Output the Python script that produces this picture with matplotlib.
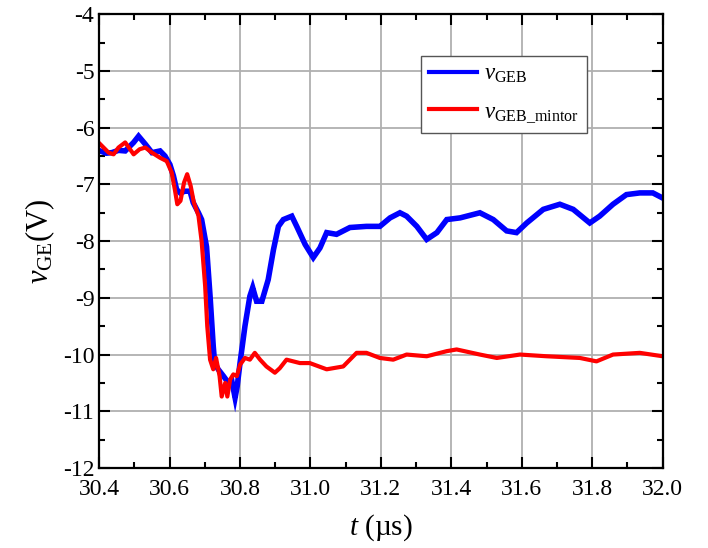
import numpy as np
import matplotlib
matplotlib.use("Agg")
import matplotlib.pyplot as plt
from matplotlib.ticker import MultipleLocator

plt.rcParams['font.family'] = ['Liberation Serif', 'DejaVu Serif']
plt.rcParams['mathtext.fontset'] = 'custom'
plt.rcParams['mathtext.rm'] = 'Liberation Serif'
plt.rcParams['mathtext.it'] = 'Liberation Serif:italic'
plt.rcParams['axes.unicode_minus'] = False

# v_GEB (t in us, v in V)
blue_t = [30.403, 30.420, 30.436, 30.455, 30.474, 30.498, 30.512, 30.531, 30.550, 30.573,
          30.587, 30.601, 30.611, 30.620, 30.630, 30.644, 30.658, 30.667, 30.682, 30.691,
          30.705, 30.715, 30.724, 30.728, 30.738, 30.753, 30.767, 30.776, 30.786, 30.792,
          30.800, 30.814, 30.828, 30.836, 30.847, 30.862, 30.880, 30.895, 30.909, 30.923,
          30.947, 30.961, 30.985, 31.008, 31.027, 31.046, 31.074, 31.112, 31.159, 31.197,
          31.226, 31.254, 31.273, 31.302, 31.330, 31.359, 31.387, 31.425, 31.481, 31.519,
          31.557, 31.585, 31.614, 31.661, 31.708, 31.746, 31.793, 31.821, 31.859, 31.897,
          31.935, 31.972, 32.000]
blue_v = [-6.41, -6.45, -6.44, -6.40, -6.41, -6.26, -6.15, -6.29, -6.44, -6.41,
          -6.50, -6.65, -6.85, -7.09, -7.15, -7.12, -7.12, -7.32, -7.50, -7.62,
          -8.10, -8.97, -9.85, -10.15, -10.26, -10.38, -10.50, -10.44, -10.76, -10.56,
          -10.15, -9.50, -8.97, -8.82, -9.06, -9.06, -8.68, -8.15, -7.74, -7.62,
          -7.56, -7.74, -8.06, -8.29, -8.12, -7.85, -7.88, -7.76, -7.74, -7.74,
          -7.59, -7.50, -7.56, -7.74, -7.97, -7.85, -7.62, -7.59, -7.50, -7.62,
          -7.82, -7.85, -7.68, -7.44, -7.35, -7.44, -7.68, -7.56, -7.35, -7.18,
          -7.15, -7.15, -7.24]

# v_GEB_mintor
red_t = [30.403, 30.427, 30.441, 30.455, 30.474, 30.498, 30.515, 30.531, 30.550, 30.573,
         30.592, 30.606, 30.615, 30.622, 30.631, 30.641, 30.650, 30.660, 30.669, 30.682,
         30.691, 30.701, 30.707, 30.715, 30.724, 30.732, 30.742, 30.748, 30.758, 30.764,
         30.772, 30.781, 30.791, 30.800, 30.814, 30.828, 30.842, 30.857, 30.875, 30.899,
         30.913, 30.932, 30.951, 30.970, 30.998, 31.046, 31.093, 31.131, 31.159, 31.197,
         31.235, 31.273, 31.330, 31.387, 31.415, 31.481, 31.529, 31.595, 31.670, 31.765,
         31.812, 31.859, 31.935, 32.000]
red_v = [-6.29, -6.44, -6.47, -6.35, -6.26, -6.47, -6.38, -6.35, -6.44, -6.53,
         -6.59, -6.79, -7.09, -7.35, -7.29, -6.97, -6.82, -7.03, -7.32, -7.55,
         -8.00, -8.79, -9.50, -10.09, -10.26, -10.06, -10.38, -10.74, -10.50, -10.74,
         -10.44, -10.35, -10.38, -10.18, -10.06, -10.09, -9.97, -10.09, -10.21, -10.32,
         -10.24, -10.09, -10.12, -10.15, -10.15, -10.26, -10.21, -9.97, -9.97, -10.06,
         -10.09, -10.00, -10.03, -9.94, -9.91, -10.00, -10.06, -10.00, -10.03, -10.06,
         -10.12, -10.00, -9.97, -10.03]

fig = plt.figure(figsize=(7.08, 5.48), dpi=100)
ax = fig.add_axes([0.14, 0.146, 0.796, 0.828])

ax.plot(blue_t, blue_v, color='#0000ff', lw=4.0, solid_joinstyle='miter',
        label=r'$v_{\mathrm{GEB}}$')
ax.plot(red_t, red_v, color='#ff0000', lw=3.0, label=r'$v_{\mathrm{GEB\_mintor}}$')

ax.set_xlim(30.4, 32.0)
ax.set_ylim(-12, -4)
ax.xaxis.set_major_locator(MultipleLocator(0.2))
ax.xaxis.set_minor_locator(MultipleLocator(0.1))
ax.yaxis.set_major_locator(MultipleLocator(1))
ax.yaxis.set_minor_locator(MultipleLocator(0.5))
ax.xaxis.set_major_formatter(matplotlib.ticker.FormatStrFormatter('%.1f'))
ax.grid(True, which='major', color='#b0b0b0', lw=1.3)
ax.set_axisbelow(True)
ax.tick_params(which='both', direction='in', top=True, right=True, labelsize=17, width=1.5)
ax.tick_params(which='major', length=8)
ax.tick_params(which='minor', length=4.5)
ax.tick_params(axis='x', pad=8)
for s in ax.spines.values():
    s.set_linewidth(1.6)

ax.set_xlabel(r'$t$ (µs)', fontsize=21, labelpad=9)
ax.set_ylabel(r'$v_{\mathrm{GE}}$(V)', fontsize=22, labelpad=4)

leg = ax.legend(loc='upper right', bbox_to_anchor=(0.865, 0.908), borderaxespad=0,
                fontsize=16.5, handlelength=2.1, handletextpad=0.3, borderpad=0.35,
                fancybox=False, framealpha=1, edgecolor='#555555', labelspacing=0.7)
leg.get_frame().set_linewidth(1.0)
for ln in leg.get_lines():
    ln.set_linewidth(3.0)

fig.savefig('out.png', dpi=100)
